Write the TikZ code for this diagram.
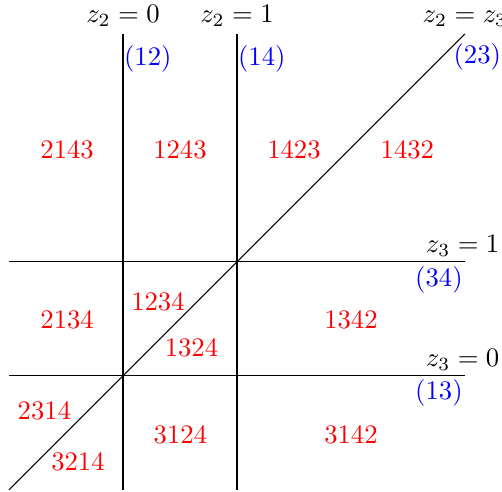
\documentclass[tikz,border=0pt]{standalone}
\begin{document}
\begin{tikzpicture}[x=1.5cm,y=1.5cm,
  perm/.style={text=red},
  trans/.style={text=blue,inner sep=0pt},
  eqlab/.style={anchor=base,inner sep=0pt}]
\useasboundingbox (-1.079,-1.018) rectangle (3.325,3.298);
% line end points
\coordinate (v0b) at (0,-1); \coordinate (v0t) at (0,3);
\coordinate (v1b) at (1,-1); \coordinate (v1t) at (1,3);
\coordinate (h1l) at (-1,1); \coordinate (h1r) at (3,1);
\coordinate (h0l) at (-1,0); \coordinate (h0r) at (3,0);
\coordinate (dl) at (-1,-1); \coordinate (dr) at (3,3);
\draw (v0b) -- (v0t);
\draw (v1b) -- (v1t);
\draw (h1l) -- (h1r);
\draw (h0l) -- (h0r);
\draw (dl) -- (dr);
% equation labels
\node[eqlab] (e20) at (0,3.105) {$z_2=0$};
\node[eqlab] (e21) at (1,3.105) {$z_2=1$};
\node[eqlab] (e23) at (3,3.105) {$z_2=z_3$};
\node[eqlab] (e31) at (2.98,1.079) {$z_3=1$};
\node[eqlab] (e30) at (2.98,0.079) {$z_3=0$};
% transpositions
\node[trans,anchor=west] (t12) at (0.005,2.78) {(12)};
\node[trans,anchor=west] (t14) at (1.005,2.78) {(14)};
\node[trans,anchor=west] (t23) at (2.895,2.80) {(23)};
\node[trans,anchor=east] (t34) at (2.985,0.842) {(34)};
\node[trans,anchor=east] (t13) at (2.985,-0.149) {(13)};
% permutations
\node[perm] (p2143) at (-0.49,1.98) {2143};
\node[perm] (p1243) at (0.5,1.98) {1243};
\node[perm] (p1423) at (1.5,1.98) {1423};
\node[perm] (p1432) at (2.495,1.98) {1432};
\node[perm] (p2134) at (-0.49,0.49) {2134};
\node[perm] (p1234) at (0.307,0.648) {1234};
\node[perm] (p1324) at (0.601,0.246) {1324};
\node[perm] (p1342) at (2.0,0.49) {1342};
\node[perm] (p2314) at (-0.689,-0.303) {2314};
\node[perm] (p3214) at (-0.395,-0.754) {3214};
\node[perm] (p3124) at (0.504,-0.513) {3124};
\node[perm] (p3142) at (2.0,-0.513) {3142};
\end{tikzpicture}
\end{document}
